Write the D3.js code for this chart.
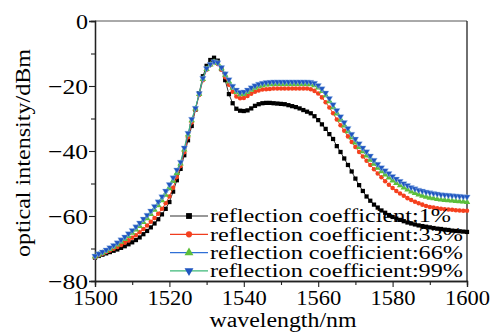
<!DOCTYPE html>
<html>
<head>
<meta charset="utf-8">
<script src="https://cdn.jsdelivr.net/npm/d3@7"></script>
<style>
  html, body { margin: 0; padding: 0; background: #fff; }
  svg text { font-family: "Liberation Serif", "Times New Roman", "DejaVu Serif", serif !important; fill: #000; }
</style>
</head>
<body>
<svg id="chart" width="498" height="333"></svg>
<script>
// wavelength grid (nm), one point per nm
const wavelength = d3.range(1500, 1601);

// optical intensity (dBm)
const r1 = [
  -72.8, -72.3, -71.9, -71.5, -71.1, -70.7, -70.3, -69.8, -69.3, -68.7,
  -68.1, -67.4, -66.6, -65.6, -64.6, -63.5, -62.3, -61.0, -59.5, -57.8,
  -55.7, -52.5, -49.0, -45.5, -41.3, -36.7, -32.3, -27.3, -22.2, -17.0,
  -13.8, -12.0, -11.3, -12.2, -14.8, -18.2, -22.5, -25.3, -27.0, -27.6,
  -27.7, -27.5, -26.9, -26.1, -25.6, -25.3, -25.2, -25.2, -25.3, -25.4,
  -25.5, -25.6, -25.9, -26.2, -26.5, -26.9, -27.4, -27.9, -28.4, -29.3,
  -30.5, -31.8, -33.2, -34.8, -36.3, -38.5, -40.3, -42.3, -44.3, -46.3,
  -48.5, -50.5, -52.3, -54.0, -55.3, -56.5, -57.4, -58.3, -59.0, -59.7,
  -60.3, -60.8, -61.2, -61.6, -62.0, -62.3, -62.6, -62.9, -63.1, -63.3,
  -63.5, -63.7, -63.9, -64.0, -64.2, -64.3, -64.5, -64.6, -64.7, -64.8,
  -64.9
];
const r33 = [
  -72.7, -72.1, -71.6, -71.1, -70.6, -70.1, -69.5, -68.9, -68.2, -67.5,
  -66.7, -65.9, -65.0, -64.0, -62.9, -61.8, -60.6, -59.3, -57.8, -56.1,
  -54.0, -51.3, -48.0, -44.6, -40.4, -35.8, -31.2, -27.3, -22.8, -18.2,
  -15.0, -13.5, -12.7, -13.2, -15.0, -17.3, -19.6, -21.8, -23.2, -23.8,
  -23.7, -23.1, -22.4, -21.8, -21.4, -21.1, -21.0, -20.9, -20.8, -20.8,
  -20.8, -20.8, -20.8, -20.8, -20.8, -20.8, -20.8, -20.8, -21.0, -21.5,
  -22.3, -23.5, -25.0, -26.6, -28.4, -30.3, -32.1, -33.8, -35.5, -37.2,
  -38.8, -40.3, -41.7, -43.0, -44.3, -45.6, -46.9, -48.1, -49.3, -50.4,
  -51.4, -52.3, -53.1, -53.8, -54.5, -55.1, -55.6, -56.1, -56.5, -56.9,
  -57.2, -57.4, -57.6, -57.8, -57.9, -58.0, -58.1, -58.2, -58.3, -58.4,
  -58.4
];
const r66 = [
  -72.5, -71.9, -71.4, -70.8, -70.2, -69.5, -68.8, -68.0, -67.1, -66.2,
  -65.2, -64.2, -63.1, -61.9, -60.7, -59.4, -58.1, -56.7, -55.2, -53.5,
  -51.5, -49.3, -46.8, -43.9, -39.6, -35.0, -30.6, -27.0, -22.5, -17.9,
  -14.8, -13.4, -12.6, -13.0, -14.6, -16.6, -18.6, -20.6, -21.9, -22.6,
  -22.5, -21.9, -21.2, -20.6, -20.1, -19.8, -19.6, -19.5, -19.4, -19.4,
  -19.4, -19.4, -19.4, -19.4, -19.4, -19.4, -19.4, -19.4, -19.5, -19.8,
  -20.5, -21.6, -22.9, -24.7, -26.6, -28.5, -30.4, -32.2, -34.0, -35.8,
  -37.4, -38.8, -40.1, -41.4, -42.7, -44.0, -45.2, -46.3, -47.3, -48.2,
  -49.1, -49.9, -50.6, -51.3, -51.9, -52.5, -53.0, -53.4, -53.8, -54.1,
  -54.4, -54.6, -54.8, -55.0, -55.1, -55.2, -55.3, -55.4, -55.5, -55.6,
  -55.7
];
const r99 = [
  -72.3, -71.6, -71.0, -70.4, -69.7, -69.0, -68.2, -67.3, -66.4, -65.4,
  -64.4, -63.3, -62.1, -60.9, -59.7, -58.4, -57.0, -55.6, -54.0, -52.3,
  -50.3, -48.2, -45.8, -43.4, -39.0, -34.5, -30.2, -26.8, -22.3, -17.6,
  -14.6, -13.3, -12.5, -12.8, -14.3, -16.2, -18.0, -20.0, -21.2, -21.9,
  -21.8, -21.2, -20.5, -19.9, -19.4, -19.1, -18.9, -18.8, -18.7, -18.7,
  -18.7, -18.7, -18.7, -18.7, -18.7, -18.7, -18.7, -18.7, -18.8, -19.1,
  -19.8, -20.8, -22.1, -23.8, -25.7, -27.5, -29.4, -31.2, -33.0, -34.8,
  -36.3, -37.7, -39.0, -40.2, -41.5, -42.8, -44.0, -45.1, -46.0, -46.9,
  -47.8, -48.6, -49.3, -50.0, -50.6, -51.2, -51.6, -52.0, -52.3, -52.6,
  -52.8, -53.0, -53.2, -53.4, -53.5, -53.6, -53.7, -53.8, -53.9, -54.0,
  -54.1
];

const seriesNames = [
  "reflection coefficient:1%",
  "reflection coefficient:33%",
  "reflection coefficient:66%",
  "reflection coefficient:99%"
];
const xTicks = [1500, 1520, 1540, 1560, 1580, 1600];
const yTicks = [0, -20, -40, -60, -80];

const series = [
  { name: seriesNames[0], values: r1,  line: "#333333", fill: "#000000", symbol: d3.symbolSquare },
  { name: seriesNames[1], values: r33, line: "#f03c1e", fill: "#f5401e", symbol: d3.symbolCircle },
  { name: seriesNames[2], values: r66, line: "#2f6fd6", fill: "#5cbf3a", symbol: d3.symbolTriangle },
  { name: seriesNames[3], values: r99, line: "#3cb878", fill: "#1f55c0", symbol: "down" }
];

const svg = d3.select("#chart");
const margin = { left: 95, right: 31, top: 21, bottom: 52 };
const W = 498 - margin.left - margin.right;
const H = 333 - margin.top - margin.bottom;

const x = d3.scaleLinear().domain([1500, 1600]).range([0, W]);
const y = d3.scaleLinear().domain([-80, 0]).range([H, 0]);

const g = svg.append("g").attr("transform", `translate(${margin.left},${margin.top})`);

const minus = s => String(s).replace("-", "\u2212");

// frame (top and right)
g.append("line").attr("x1", 0).attr("x2", W).attr("y1", 0).attr("y2", 0)
  .attr("stroke", "#555").attr("stroke-width", 1);
g.append("line").attr("x1", W).attr("x2", W).attr("y1", 0).attr("y2", H)
  .attr("stroke", "#222").attr("stroke-width", 1.3);

// minor ticks
const xMinor = d3.axisBottom(x).tickValues(d3.range(1510, 1600, 20)).tickSize(4).tickFormat("");
const yMinor = d3.axisLeft(y).tickValues(d3.range(-70, 0, 20)).tickSize(4).tickFormat("");
g.append("g").attr("transform", `translate(0,${H})`).call(xMinor);
g.append("g").call(yMinor);

// major axes
const xAxis = d3.axisBottom(x).tickValues(xTicks).tickSize(6).tickPadding(1).tickFormat(d => d);
const yAxis = d3.axisLeft(y).tickValues(yTicks).tickSize(6).tickPadding(1).tickFormat(minus);

const gx = g.append("g").attr("transform", `translate(0,${H})`).call(xAxis);
const gy = g.append("g").call(yAxis);

svg.selectAll(".domain").attr("stroke", "#222").attr("stroke-width", 1.3);
svg.selectAll(".tick line").attr("stroke", "#222").attr("stroke-width", 1.1);
// narrow the glyphs so labels take the width they have in the figure
gx.selectAll("text").attr("font-size", 21).attr("dy", "0.8em")
  .attr("textLength", 45).attr("lengthAdjust", "spacingAndGlyphs");
gy.selectAll("text").attr("font-size", 22).attr("dy", "0.33em")
  .attr("textLength", d => d === 0 ? 12 : 40).attr("lengthAdjust", "spacingAndGlyphs");

// axis titles
svg.append("text")
  .attr("x", 283).attr("y", 327)
  .attr("text-anchor", "middle").attr("font-size", 20)
  .attr("textLength", 147).attr("lengthAdjust", "spacingAndGlyphs")
  .text("wavelength/nm");
svg.append("text")
  .attr("transform", "translate(30,153) rotate(-90)")
  .attr("text-anchor", "middle").attr("font-size", 22)
  .attr("textLength", 208).attr("lengthAdjust", "spacingAndGlyphs")
  .text("optical intensity/dBm");

const symbolPath = (s, size) => {
  if (s === "down") return d3.symbol(d3.symbolTriangle, size)();
  return d3.symbol(s, size)();
};

const line = d3.line().x((d, i) => x(wavelength[i])).y(d => y(d));

const plot = g.append("g");
series.forEach(s => {
  plot.append("path")
    .datum(s.values)
    .attr("fill", "none")
    .attr("stroke", s.line)
    .attr("stroke-width", 1)
    .attr("d", line);
  plot.append("g").selectAll("path")
    .data(s.values)
    .join("path")
    .attr("d", symbolPath(s.symbol, s.symbol === d3.symbolCircle ? 16 : 18))
    .attr("transform", (d, i) => `translate(${x(wavelength[i])},${y(d)})` + (s.symbol === "down" ? " rotate(180)" : ""))
    .attr("fill", s.fill)
    .attr("stroke", s.symbol === "down" ? "#9ec0ea" : "none")
    .attr("stroke-width", 0.4);
});

// legend
const legend = svg.append("g").attr("transform", "translate(170,216)");
series.forEach((s, i) => {
  const row = legend.append("g").attr("transform", `translate(0,${i * 18.3})`);
  row.append("line").attr("x1", 0).attr("x2", 38).attr("y1", 0).attr("y2", 0)
    .attr("stroke", s.line).attr("stroke-width", 1.2);
  row.append("path")
    .attr("d", symbolPath(s.symbol, s.symbol === d3.symbolCircle ? 30 : 34))
    .attr("transform", "translate(19,0)" + (s.symbol === "down" ? " rotate(180)" : ""))
    .attr("fill", s.fill);
  row.append("text")
    .attr("x", 40).attr("y", 0).attr("dy", "0.36em")
    .attr("font-size", 18)
    .attr("textLength", i === 0 ? 241 : 253)
    .attr("lengthAdjust", "spacingAndGlyphs")
    .text(s.name);
});
</script>
</body>
</html>
